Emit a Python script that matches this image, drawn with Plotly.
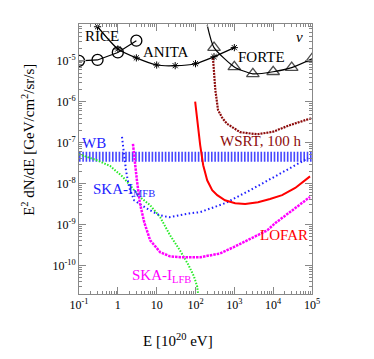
import plotly.graph_objects as go

# sensitivity / limit curves, E in 10^20 eV, flux E^2 dN/dE in GeV/cm^2/sr/s
rice_e = [0.1, 0.3, 1.0, 3.0]
rice_f = [1.0e-5, 1.05e-5, 1.6e-5, 3.1e-5]

anita_e = [0.3, 1, 3, 10, 30, 100, 300, 1000]
anita_f = [6.8e-5, 1.95e-5, 1.18e-5, 7.9e-6, 7.6e-6, 8.5e-6, 1.26e-5, 2.1e-5]

forte_e = [200, 300, 1000, 3000, 1e4, 3e4, 1e5]
forte_f = [7.5e-5, 2.1e-5, 7.1e-6, 4.8e-6, 5.4e-6, 6.8e-6, 1.12e-5]

wsrt_e = [282, 324, 380, 490, 646, 1410, 3890, 1e4, 2.75e4, 1e5]
wsrt_f = [1.18e-5, 1.95e-6, 6.3e-7, 4.0e-7, 2.9e-7, 1.8e-7, 1.6e-7, 1.85e-7, 2.7e-7, 4.0e-7]

wb_e = [0.1, 1e5]
wb_f = [4.5e-8, 4.5e-8]

mfb_e = [1.28, 1.62, 1.95, 2.63, 5.4, 11.5, 20.9, 69, 132, 575, 2570, 1.12e4, 8e4]
mfb_f = [1.38e-7, 2.1e-8, 8.1e-9, 3.9e-9, 2.5e-9, 1.7e-9, 1.5e-9, 1.86e-9, 2.0e-9,
         3.3e-9, 6.9e-9, 1.5e-8, 4.2e-8]

lfb_e = [2.45, 2.75, 3.1, 3.7, 4.8, 6.8, 12.3, 22, 40, 132, 427, 933, 2570, 7080,
         1.12e4, 2.75e4, 8.9e4]
lfb_f = [9.3e-8, 2.8e-8, 1.2e-8, 3.3e-9, 1.12e-9, 4.1e-10, 2.1e-10, 1.66e-10, 1.58e-10,
         1.58e-10, 1.95e-10, 2.75e-10, 4.4e-10, 7.2e-10, 1.07e-9, 2.0e-9, 4.7e-9]

green_e = [0.1, 0.29, 0.63, 1.35, 3.7, 6.8, 12.3, 22, 40, 65, 91, 110, 117]
green_f = [5.2e-8, 3.7e-8, 2.7e-8, 1.45e-8, 4.7e-9, 2.95e-9, 1.5e-9, 5.5e-10, 2.3e-10,
           1.05e-10, 5.4e-11, 3.1e-11, 1.95e-11]

lofar_e = [98, 110, 132, 158, 200, 269, 363, 575, 1050, 1900, 4070, 8300, 1.7e4, 3.7e4, 8.9e4]
lofar_f = [1.0e-6, 3.5e-7, 8.7e-8, 2.8e-8, 1.2e-8, 6.9e-9, 5.2e-9, 3.9e-9, 3.3e-9,
           3.16e-9, 3.5e-9, 4.2e-9, 5.2e-9, 7.8e-9, 1.5e-8]

x_ticks = [0.1, 1, 10, 100, 1e3, 1e4, 1e5]
x_labels = ["10<sup>-1</sup>", "1", "10", "10<sup>2</sup>", "10<sup>3</sup>",
            "10<sup>4</sup>", "10<sup>5</sup>"]
y_ticks = [1e-10, 1e-9, 1e-8, 1e-7, 1e-6, 1e-5]
y_labels = ["10<sup>-10</sup>", "10<sup>-9</sup>", "10<sup>-8</sup>", "10<sup>-7</sup>",
            "10<sup>-6</sup>", "10<sup>-5</sup>"]

SERIF = "Liberation Serif, Times New Roman, serif"

fig = go.Figure()
# WB band drawn as a thick line of vertical dashes
fig.add_trace(go.Scatter(x=wb_e, y=wb_f, mode="lines",
                         line=dict(color="rgba(40,40,255,0.85)", width=10, dash="1.6px,1.7px")))
fig.add_trace(go.Scatter(x=green_e, y=green_f, mode="lines",
                         line=dict(color="rgb(40,235,40)", width=2, dash="1.5px,1.5px")))
fig.add_trace(go.Scatter(x=mfb_e, y=mfb_f, mode="lines",
                         line=dict(color="rgb(30,30,255)", width=2, dash="1.5px,2.5px")))
fig.add_trace(go.Scatter(x=lfb_e, y=lfb_f, mode="lines",
                         line=dict(color="rgb(255,0,255)", width=2.5, dash="2.5px,1px")))
fig.add_trace(go.Scatter(x=lofar_e, y=lofar_f, mode="lines",
                         line=dict(color="rgb(255,0,0)", width=2)))
fig.add_trace(go.Scatter(x=wsrt_e, y=wsrt_f, mode="lines",
                         line=dict(color="rgb(140,10,10)", width=2.2, dash="2px,1px")))
fig.add_trace(go.Scatter(x=rice_e, y=rice_f, mode="lines+markers",
                         line=dict(color="black", width=1.2),
                         marker=dict(symbol="circle-open", size=11, color="black", line=dict(width=1.3))))
fig.add_trace(go.Scatter(x=anita_e, y=anita_f, mode="lines+markers", line_shape="spline",
                         line=dict(color="black", width=1.2, smoothing=0.6),
                         marker=dict(symbol="asterisk-open", size=6, color="black", line=dict(width=1))))
fig.add_trace(go.Scatter(x=forte_e, y=forte_f, mode="lines+markers", line_shape="spline",
                         line=dict(color="black", width=1.2, smoothing=0.6),
                         marker=dict(symbol="triangle-up-open", size=[0, 11, 11, 11, 11, 11, 11],
                                     color="black", line=dict(width=1.3))))

axis_common = dict(type="log", showgrid=False, zeroline=False, showline=True,
                   linecolor="#888", linewidth=1, mirror="allticks", ticks="inside",
                   ticklen=7, tickcolor="#888", tickfont=dict(family=SERIF, size=12, color="black"),
                   minor=dict(ticks="inside", ticklen=3, tickcolor="#888", dtick="D1", showgrid=False))
fig.update_xaxes(range=[-1, 5], tickvals=x_ticks, ticktext=x_labels, **axis_common)
fig.update_yaxes(range=[-10.7, -4.1], tickvals=y_ticks, ticktext=y_labels, **axis_common)

def label(text, x, y, color, xanchor="center", size=15, italic=False):
    fig.add_annotation(text=text, x=x, y=y, xref="paper", yref="paper", showarrow=False,
                       xanchor=xanchor, yanchor="middle",
                       font=dict(family=SERIF, size=size, color=color,
                                 style="italic" if italic else "normal"))

label("RICE", 0.099, 0.956, "black")
label("ANITA", 0.373, 0.896, "black")
label("FORTE", 0.785, 0.878, "black")
label("ν", 0.948, 0.952, "black", italic=True)
label("WSRT, 100 h", 0.777, 0.565, "rgb(140,10,10)")
label("WB", 0.003, 0.559, "rgb(30,30,255)", xanchor="left")
label("SKA-I<sub>MFB</sub>", 0.05, 0.385, "rgb(30,30,255)", xanchor="left")
label("LOFAR", 0.88, 0.219, "rgb(255,0,0)")
label("SKA-I<sub>LFB</sub>", 0.22, 0.066, "rgb(255,0,255)", xanchor="left")
label("E<sup>2</sup> dN/dE [GeV/cm<sup>2</sup>/sr/s]", -0.22, 0.57, "black", size=15)
fig.layout.annotations[-1].textangle = -90
label("E [10<sup>20</sup> eV]", 0.425, -0.17, "black", size=15)

# page body keeps a default 8px margin, so the figure is 8px smaller and margins shifted
fig.update_layout(width=366, height=351, margin=dict(l=71, r=62, t=16, b=65),
                  plot_bgcolor="white", paper_bgcolor="white", showlegend=False)
fig.write_html("out.html")
